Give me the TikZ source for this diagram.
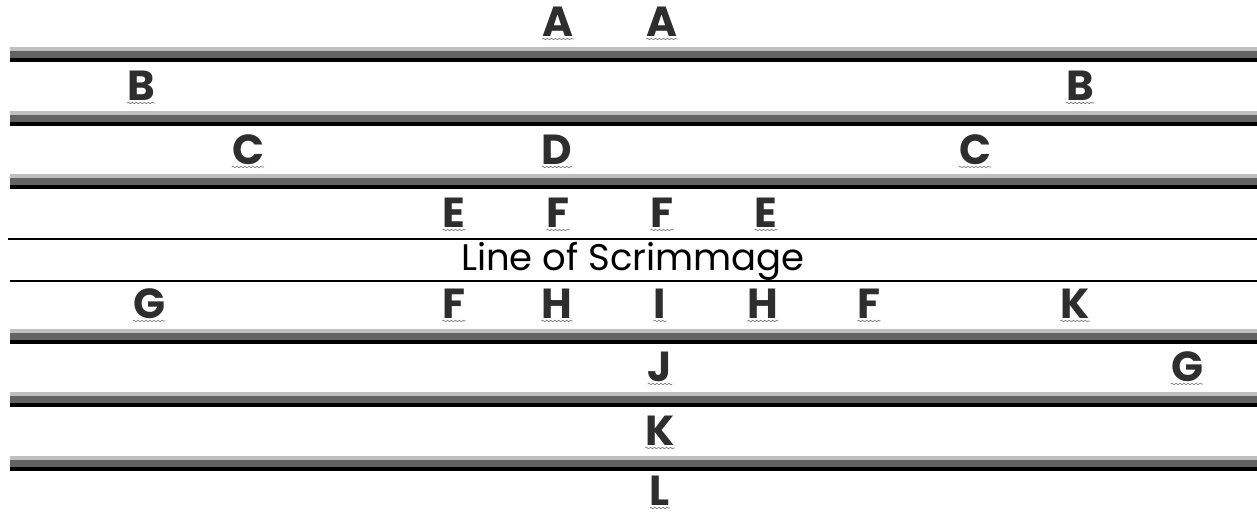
\documentclass[tikz,border=0pt]{standalone}
\usepackage{fontspec}
\setmainfont{Poppins}
\usetikzlibrary{decorations.pathmorphing}

\begin{document}
\begin{tikzpicture}[
  x=1pt, y=-1pt,
  player/.style={font=\fontsize{42}{42}\selectfont\bfseries, text=black!82, inner sep=0pt, anchor=base},
  squiggle/.style={draw=black!55, line width=0.6pt, decorate,
    decoration={snake, amplitude=0.8pt, segment length=4pt}},
  lineband/.style={line width=2.2pt},
]
\useasboundingbox (0,0) rectangle (1257,514);

% --- yard bars: light, dark and black band stacked
\foreach \t in {47,111,174,329,392,456} {
  \fill[black!25] (10,\t) rectangle (1257,\t+4);
  \fill[black!61] (10,\t+4) rectangle (1257,\t+11);
  \fill[black]    (10,\t+11) rectangle (1257,\t+15);
}

% --- the two thin lines round the line of scrimmage
\draw[lineband] (8,239) -- (1257,239);
\draw[lineband] (10,281) -- (1257,281);
\node[font=\fontsize{37}{37}\selectfont, inner sep=0pt, anchor=base] (los) at (633,270) {Line of Scrimmage};

% --- players, row by row (name / x / baseline / letter)
\foreach \n/\x/\y/\l in {
    a1/558/36/A, a2/662/36/A,
    b1/141/100/B, b2/1080/100/B,
    c1/248/164/C, d1/557/164/D, c2/975/164/C,
    e1/454/227/E, f1/558/227/F, f2/662/227/F, e2/766/227/E,
    g1/149/318/G, f3/454/318/F, h1/557/318/H, i1/660/318/I, h2/763/318/H, f4/869/318/F, k1/1075/318/K,
    j1/660/381/J, g2/1187/381/G,
    k2/660/445/K,
    l1/660/505/L} {
  \node[player] (\n) at (\x,\y) {\l};
  \draw[squiggle] ([yshift=-3pt]\n.base west) -- ([yshift=-3pt]\n.base east);
}

\end{tikzpicture}
\end{document}
